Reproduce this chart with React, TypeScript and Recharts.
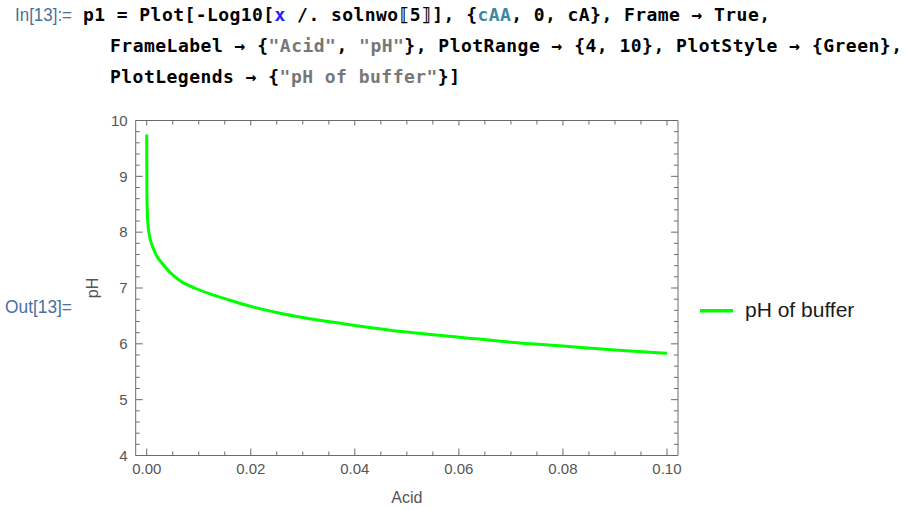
import React from 'react';
import { LineChart, Line, XAxis, YAxis, Legend } from 'recharts';

// ---- data ----
const acidValues = [0, 0.00003, 0.0001, 0.00025, 0.0005, 0.00077, 0.0013, 0.002, 0.003, 0.0047, 0.0064, 0.0092, 0.012, 0.016, 0.02, 0.025, 0.03, 0.04, 0.05, 0.06, 0.07, 0.08, 0.09, 0.1];
const phValues = [9.75, 8.73, 8.4, 8.13, 7.95, 7.84, 7.7, 7.56, 7.44, 7.26, 7.13, 7.0, 6.9, 6.78, 6.67, 6.56, 6.47, 6.33, 6.21, 6.12, 6.03, 5.96, 5.89, 5.83];

const xTicks = [0, 0.005, 0.01, 0.015, 0.02, 0.025, 0.03, 0.035, 0.04, 0.045, 0.05, 0.055, 0.06, 0.065, 0.07, 0.075, 0.08, 0.085, 0.09, 0.095, 0.1];
const xMajorTicks = [0, 0.02, 0.04, 0.06, 0.08, 0.1];
const yTicks = [4, 4.2, 4.4, 4.6, 4.8, 5, 5.2, 5.4, 5.6, 5.8, 6, 6.2, 6.4, 6.6, 6.8, 7, 7.2, 7.4, 7.6, 7.8, 8, 8.2, 8.4, 8.6, 8.8, 9, 9.2, 9.4, 9.6, 9.8, 10];
const yMajorTicks = [4, 5, 6, 7, 8, 9, 10];

const xDomain = [-0.00212, 0.10212];
const yDomain = [4, 10];

const seriesName = 'pH of buffer';
const xLabel = 'Acid';
const yLabel = 'pH';

const data = acidValues.map((a, i) => ({ acid: a, ph: phValues[i] }));

// ---- styles ----
const FRAME = '#6a6a6a';
const TICK_TEXT = '#555555';
const SANS = '"Liberation Sans", Arial, sans-serif';
const MONO = '"DejaVu Sans Mono", monospace';
const CELL_LABEL = '#4a6fa0';
const SYMBOL_BLUE = '#1f1fff';
const LOCAL_TEAL = '#3c89a6';
const STRING_GRAY = '#777777';
const MAJOR = 7;
const MINOR = 4;
const OFFSET = 8; // tickSize 6 + tickMargin 2

const isMajor = (v: number, majors: number[]) => majors.some((m) => Math.abs(m - v) < 1e-9);

const BottomTick = (p: any) => {
  const { x, y, payload } = p;
  const v = payload.value as number;
  const major = isMajor(v, xMajorTicks);
  const ay = y - OFFSET;
  return (
    <g>
      <line x1={x} x2={x} y1={ay} y2={ay - (major ? MAJOR : MINOR)} stroke={FRAME} strokeWidth={1} />
      {major && (
        <text x={x} y={y} dy="0.71em" textAnchor="middle" fontSize={15} fontFamily={SANS} fill={TICK_TEXT}>
          {v.toFixed(2)}
        </text>
      )}
    </g>
  );
};

const TopTick = (p: any) => {
  const { x, y, payload } = p;
  const v = payload.value as number;
  const major = isMajor(v, xMajorTicks);
  const ay = y + OFFSET;
  return <line x1={x} x2={x} y1={ay} y2={ay + (major ? 5 : 4)} stroke={FRAME} strokeWidth={1} />;
};

const LeftTick = (p: any) => {
  const { x, y, payload } = p;
  const v = payload.value as number;
  const major = isMajor(v, yMajorTicks);
  const ax = x + OFFSET;
  return (
    <g>
      <line x1={ax} x2={ax + (major ? MAJOR : MINOR)} y1={y} y2={y} stroke={FRAME} strokeWidth={1} />
      {major && (
        <text x={x} y={y} dy="0.355em" textAnchor="end" fontSize={15} fontFamily={SANS} fill={TICK_TEXT}>
          {String(Math.round(v))}
        </text>
      )}
    </g>
  );
};

const RightTick = (p: any) => {
  const { x, y, payload } = p;
  const v = payload.value as number;
  const major = isMajor(v, yMajorTicks);
  const ax = x - OFFSET;
  return <line x1={ax} x2={ax - (major ? MAJOR : MINOR)} y1={y} y2={y} stroke={FRAME} strokeWidth={1} />;
};

const XTitle = (p: any) => {
  const vb = p.viewBox || { x: 135.7, y: 455.5, width: 542.3, height: 50 };
  return (
    <text x={vb.x + vb.width / 2} y={vb.y + vb.height - 2.5} textAnchor="middle" fontSize={16} fontFamily={SANS} fill={TICK_TEXT}>
      {p.value ?? xLabel}
    </text>
  );
};

const YTitle = (p: any) => {
  const vb = p.viewBox || { x: 85.7, y: 120.5, width: 50, height: 335 };
  const cx = vb.x + 11.8;
  const cy = vb.y + vb.height / 2;
  return (
    <text x={cx} y={cy} transform={`rotate(-90 ${cx} ${cy})`} textAnchor="middle" fontSize={16} fontFamily={SANS} fill={TICK_TEXT}>
      {p.value ?? yLabel}
    </text>
  );
};

const renderLegend = (props: any) => {
  const item = props.payload && props.payload.find((e: any) => e.value === seriesName);
  return (
    <svg width={180} height={30} style={{ display: 'block' }}>
      <line x1={0} x2={33} y1={14.7} y2={14.7} stroke={item ? item.color : '#00ff00'} strokeWidth={3.5} />
      <text x={45} y={20.7} fontSize={21} fontFamily={SANS} fill="#1a1a1a">
        {item ? item.value : seriesName}
      </text>
    </svg>
  );
};

const codeStyle: React.CSSProperties = { whiteSpace: 'pre' };
const CODE_SIZE = 18;

export default function App() {
  return (
    <div style={{ position: 'absolute', left: 0, top: 0, width: 910, height: 510, background: '#ffffff', overflow: 'hidden' }}>
      <div style={{ position: 'absolute', left: 0, top: 0 }}>
        <LineChart width={910} height={510} data={data} margin={{ top: 119.5, right: 231, bottom: 4.5, left: 85.7 }}>
          <XAxis
            dataKey="acid"
            type="number"
            domain={xDomain}
            allowDataOverflow
            ticks={xTicks}
            interval={0}
            tickLine={false}
            tickSize={6}
            tickMargin={2}
            axisLine={{ stroke: FRAME }}
            tick={(p: any) => <BottomTick {...p} />}
            height={50}
            label={{ value: xLabel, content: (p: any) => <XTitle {...p} /> }}
          />
          <XAxis
            xAxisId="top"
            orientation="top"
            dataKey="acid"
            type="number"
            domain={xDomain}
            allowDataOverflow
            ticks={xTicks}
            interval={0}
            tickLine={false}
            tickSize={6}
            tickMargin={2}
            axisLine={{ stroke: FRAME }}
            tick={(p: any) => <TopTick {...p} />}
            height={1}
          />
          <YAxis
            type="number"
            domain={yDomain}
            allowDataOverflow
            ticks={yTicks}
            interval={0}
            tickLine={false}
            tickSize={6}
            tickMargin={2}
            axisLine={{ stroke: FRAME }}
            tick={(p: any) => <LeftTick {...p} />}
            width={50}
            label={{ value: yLabel, content: (p: any) => <YTitle {...p} /> }}
          />
          <YAxis
            yAxisId="right"
            orientation="right"
            type="number"
            domain={yDomain}
            allowDataOverflow
            ticks={yTicks}
            interval={0}
            tickLine={false}
            tickSize={6}
            tickMargin={2}
            axisLine={{ stroke: FRAME }}
            tick={(p: any) => <RightTick {...p} />}
            width={1}
          />
          <Line
            type="monotone"
            dataKey="ph"
            name={seriesName}
            stroke="#00ff00"
            strokeWidth={3}
            dot={false}
            activeDot={false}
            isAnimationActive={false}
          />
          <Legend
            layout="horizontal"
            verticalAlign="middle"
            align="center"
            content={renderLegend}
            wrapperStyle={{ position: 'absolute', left: 700, top: 296, width: 180, height: 30, margin: 0 }}
          />
        </LineChart>
      </div>
      <svg width={910} height={510} style={{ position: 'absolute', left: 0, top: 0, pointerEvents: 'none' }}>
        <text x={15} y={21} fontSize={18} fontFamily={SANS} fill={CELL_LABEL} textLength={57} lengthAdjust="spacingAndGlyphs">
          In[13]:=
        </text>
        <text x={83} y={20.5} fontSize={CODE_SIZE} fontWeight="bold" fontFamily={MONO} fill="#000000" textLength={687} lengthAdjust="spacing" style={codeStyle}>
          <tspan>{'p1 = Plot[-Log10['}</tspan>
          <tspan fill={SYMBOL_BLUE}>{'x'}</tspan>
          <tspan>{' /. solnwo⟦5⟧], {'}</tspan>
          <tspan fill={LOCAL_TEAL}>{'cAA'}</tspan>
          <tspan>{', 0, cA}, Frame → True,'}</tspan>
        </text>
        <text x={110} y={51.7} fontSize={CODE_SIZE} fontWeight="bold" fontFamily={MONO} fill="#000000" textLength={792} lengthAdjust="spacing" style={codeStyle}>
          <tspan>{'FrameLabel → {'}</tspan>
          <tspan fill={STRING_GRAY}>{'"Acid"'}</tspan>
          <tspan>{', '}</tspan>
          <tspan fill={STRING_GRAY}>{'"pH"'}</tspan>
          <tspan>{'}, PlotRange → {4, 10}, PlotStyle → {Green},'}</tspan>
        </text>
        <text x={110} y={82.7} fontSize={CODE_SIZE} fontWeight="bold" fontFamily={MONO} fill="#000000" textLength={350} lengthAdjust="spacing" style={codeStyle}>
          <tspan>{'PlotLegends → {'}</tspan>
          <tspan fill={STRING_GRAY}>{'"pH of buffer"'}</tspan>
          <tspan>{'}]'}</tspan>
        </text>
        <text x={5} y={313} fontSize={18} fontFamily={SANS} fill={CELL_LABEL} textLength={67} lengthAdjust="spacingAndGlyphs">
          Out[13]=
        </text>
      </svg>
    </div>
  );
}
